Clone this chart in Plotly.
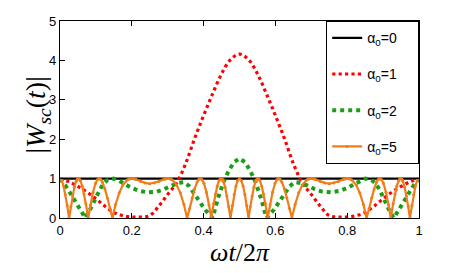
import plotly.graph_objects as go

# ---------------- data ----------------
t_a0 = [0.0, 1.0]
w_a0 = [1.0, 1.0]

t_a1 = [0.0, 0.025, 0.05, 0.075, 0.1, 0.125, 0.15, 0.175, 0.2, 0.225, 0.25,
        0.275, 0.3, 0.325, 0.35, 0.375, 0.4, 0.425, 0.45, 0.475, 0.5,
        0.525, 0.55, 0.575, 0.6, 0.625, 0.65, 0.675, 0.7, 0.725, 0.75,
        0.775, 0.8, 0.825, 0.85, 0.875, 0.9, 0.925, 0.95, 0.975, 1.0]
w_a1 = [1.00, 0.92, 0.80, 0.66, 0.49, 0.30, 0.14, 0.06, 0.025, 0.025, 0.06,
        0.30, 0.60, 0.89, 1.38, 2.02, 2.60, 3.15, 3.66, 4.02, 4.16,
        4.02, 3.66, 3.15, 2.60, 2.02, 1.38, 0.89, 0.60, 0.30, 0.06,
        0.025, 0.025, 0.06, 0.14, 0.30, 0.49, 0.66, 0.80, 0.92, 1.00]

t_a2 = [0.0, 0.015, 0.03, 0.045, 0.058, 0.07, 0.08, 0.09, 0.1, 0.11, 0.12,
        0.133, 0.15, 0.165, 0.18, 0.2, 0.22, 0.245, 0.27, 0.29, 0.31, 0.33,
        0.345, 0.36, 0.375, 0.39, 0.405, 0.425, 0.44, 0.455, 0.47, 0.485, 0.5,
        0.515, 0.53, 0.545, 0.56, 0.575, 0.595, 0.61, 0.625, 0.64, 0.655,
        0.67, 0.69, 0.71, 0.73, 0.755, 0.78, 0.8, 0.82, 0.835, 0.85, 0.867,
        0.88, 0.89, 0.9, 0.91, 0.92, 0.93, 0.942, 0.955, 0.97, 0.985, 1.0]
w_a2 = [1.00, 0.83, 0.61, 0.40, 0.19, 0.0, 0.14, 0.32, 0.52, 0.72, 0.87,
        0.97, 1.00, 0.94, 0.86, 0.76, 0.69, 0.65, 0.67, 0.73, 0.82, 0.89,
        0.91, 0.81, 0.60, 0.40, 0.20, 0.0, 0.50, 0.90, 1.20, 1.42, 1.51,
        1.42, 1.20, 0.90, 0.50, 0.0, 0.20, 0.40, 0.60, 0.81, 0.91,
        0.89, 0.82, 0.73, 0.67, 0.65, 0.69, 0.76, 0.86, 0.94, 1.00, 0.97,
        0.87, 0.72, 0.52, 0.32, 0.14, 0.0, 0.19, 0.40, 0.61, 0.83, 1.00]

t_a5 = [0.0, 0.005, 0.01, 0.015, 0.02, 0.0253, 0.03, 0.035, 0.04, 0.045, 0.048,
        0.0512, 0.054, 0.057, 0.062, 0.067, 0.072, 0.0786, 0.085, 0.092, 0.099,
        0.104, 0.109, 0.113, 0.118, 0.125, 0.132, 0.139, 0.146, 0.155, 0.165,
        0.175, 0.187, 0.193, 0.199, 0.205, 0.212, 0.225, 0.237, 0.25,
        0.263, 0.275, 0.288, 0.295, 0.301, 0.307, 0.313, 0.325, 0.335, 0.345,
        0.354, 0.361, 0.368, 0.375, 0.382, 0.387, 0.391, 0.396, 0.401, 0.408,
        0.415, 0.4214, 0.428, 0.433, 0.438, 0.443, 0.446, 0.4488, 0.452, 0.455,
        0.46, 0.465, 0.47, 0.4747, 0.48, 0.485, 0.49, 0.495, 0.5,
        0.505, 0.51, 0.515, 0.52, 0.5253, 0.53, 0.535, 0.54, 0.545, 0.548,
        0.5512, 0.554, 0.557, 0.562, 0.567, 0.572, 0.5786, 0.585, 0.592, 0.599,
        0.604, 0.609, 0.613, 0.618, 0.625, 0.632, 0.639, 0.646, 0.655, 0.665,
        0.675, 0.687, 0.693, 0.699, 0.705, 0.712, 0.725, 0.737, 0.75,
        0.763, 0.775, 0.788, 0.795, 0.801, 0.807, 0.813, 0.825, 0.835, 0.845,
        0.854, 0.861, 0.868, 0.875, 0.882, 0.887, 0.891, 0.896, 0.901, 0.908,
        0.915, 0.9214, 0.928, 0.933, 0.938, 0.943, 0.946, 0.9488, 0.952, 0.955,
        0.96, 0.965, 0.97, 0.9747, 0.98, 0.985, 0.99, 0.995, 1.0]
w_a5 = [1.0, 0.952, 0.812, 0.594, 0.320, 0.0, 0.286, 0.561, 0.783, 0.932, 0.981,
        1.0, 0.987, 0.943, 0.808, 0.608, 0.364, 0.0, 0.335, 0.655, 0.879,
        0.970, 1.0, 0.982, 0.912, 0.739, 0.506, 0.238, 0.0, 0.351, 0.639,
        0.838, 0.966, 0.992, 1.0, 0.994, 0.975, 0.927, 0.891, 0.87,
        0.891, 0.927, 0.975, 0.994, 1.0, 0.992, 0.966, 0.838, 0.639, 0.351,
        0.0, 0.238, 0.506, 0.739, 0.912, 0.982, 1.0, 0.970, 0.879, 0.655,
        0.335, 0.0, 0.364, 0.608, 0.808, 0.943, 0.987, 1.0, 0.981, 0.932,
        0.783, 0.561, 0.286, 0.0, 0.320, 0.594, 0.812, 0.952, 1.0,
        0.952, 0.812, 0.594, 0.320, 0.0, 0.286, 0.561, 0.783, 0.932, 0.981,
        1.0, 0.987, 0.943, 0.808, 0.608, 0.364, 0.0, 0.335, 0.655, 0.879,
        0.970, 1.0, 0.982, 0.912, 0.739, 0.506, 0.238, 0.0, 0.351, 0.639,
        0.838, 0.966, 0.992, 1.0, 0.994, 0.975, 0.927, 0.891, 0.87,
        0.891, 0.927, 0.975, 0.994, 1.0, 0.992, 0.966, 0.838, 0.639, 0.351,
        0.0, 0.238, 0.506, 0.739, 0.912, 0.982, 1.0, 0.970, 0.879, 0.655,
        0.335, 0.0, 0.364, 0.608, 0.808, 0.943, 0.987, 1.0, 0.981, 0.932,
        0.783, 0.561, 0.286, 0.0, 0.320, 0.594, 0.812, 0.952, 1.0]

x_ticks = [0, 0.2, 0.4, 0.6, 0.8, 1]
x_tick_labels = ["0", "0.2", "0.4", "0.6", "0.8", "1"]
y_ticks = [0, 1, 2, 3, 4, 5]
y_tick_labels = ["0", "1", "2", "3", "4", "5"]

pad = "\u00a0\u00a0\u00a0\u00a0"
names = ["α<sub>0</sub>=0" + pad, "α<sub>0</sub>=1" + pad,
         "α<sub>0</sub>=2" + pad, "α<sub>0</sub>=5" + pad]

# ---------------- figure ----------------
fig = go.Figure()
fig.add_trace(go.Scatter(x=t_a0, y=w_a0, mode="lines", name=names[0], legendgroup="g0",
                         line=dict(color="black", width=2.2)))
fig.add_trace(go.Scatter(x=t_a1, y=w_a1, mode="lines", name=names[1], legendgroup="g1",
                         line=dict(color="#ff0000", width=3.2, dash="dot", shape="spline")))
fig.add_trace(go.Scatter(x=t_a2, y=w_a2, mode="lines", name=names[2], legendgroup="g2",
                         line=dict(color="#1c9e14", width=4, dash="dot")))
fig.add_trace(go.Scatter(x=t_a5, y=w_a5, mode="lines+markers", name=names[3], legendgroup="g3",
                         line=dict(color="#f07d1a", width=2.2),
                         marker=dict(color="#f07d1a", size=3)))

axis_common = dict(showline=True, linecolor="black", linewidth=1.2, mirror="ticks",
                   ticks="inside", ticklen=5, tickcolor="black", showgrid=False,
                   zeroline=False, automargin=False,
                   tickfont=dict(family="Liberation Sans", size=13, color="black"))

fig.update_xaxes(range=[0, 1], tickvals=x_ticks, ticktext=x_tick_labels,
                 title=dict(text="<i>ωt</i>/2<i>π</i>", standoff=6,
                            font=dict(family="Liberation Serif", size=26, color="black")),
                 **axis_common)
fig.update_yaxes(range=[0, 5], tickvals=y_ticks, ticktext=y_tick_labels,
                 **axis_common)

# y-axis title (placed as a rotated annotation so it can sit close to the tick labels)
fig.add_annotation(text="|<i>W</i><sub><i>sc</i></sub>(<i>t</i>)|",
                   xref="paper", yref="paper", x=0, y=0.52, xanchor="center", yanchor="middle",
                   xshift=-22, textangle=-90, showarrow=False,
                   font=dict(family="Liberation Serif", size=28, color="black"))

fig.update_layout(
    width=463, height=273,
    margin=dict(l=52, r=52, t=13, b=63, autoexpand=False),
    paper_bgcolor="white", plot_bgcolor="white",
    showlegend=True,
    legend=dict(x=1, y=1, xanchor="right", yanchor="top",
                bgcolor="white", bordercolor="black", borderwidth=1.2,
                font=dict(family="Liberation Sans", size=14, color="black"),
                itemwidth=30, traceorder="grouped", tracegroupgap=15),
)

fig.write_html("out.html")
